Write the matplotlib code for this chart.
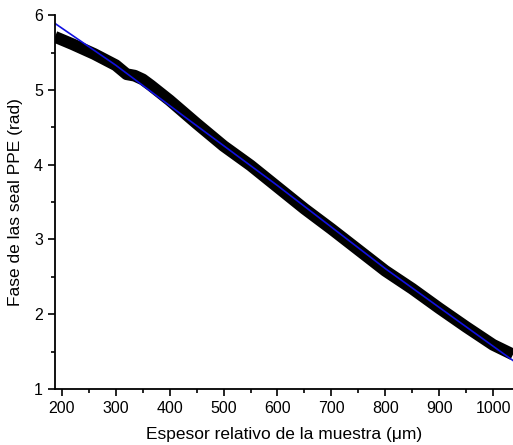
import numpy as np
import matplotlib.pyplot as plt
from matplotlib.ticker import MultipleLocator

plt.rcParams['font.family'] = ['Liberation Sans', 'DejaVu Sans']

# --------- Daten ---------
x_mess = [187, 220, 260, 300, 320, 335, 350, 365, 400, 450, 500, 550, 600,
          650, 700, 750, 800, 850, 900, 950, 1000, 1037]
y_mess = [5.71, 5.61, 5.48, 5.33, 5.21, 5.19, 5.14, 5.06, 4.86, 4.55, 4.25,
          3.99, 3.70, 3.41, 3.14, 2.86, 2.58, 2.34, 2.08, 1.83, 1.59, 1.46]
x_fit = [187, 300, 424, 600, 800, 1037]
y_fit = [5.89, 5.33, 4.66, 3.72, 2.61, 1.38]

fig = plt.figure(figsize=(5.13, 4.45), dpi=100)
ax = fig.add_axes([0.107, 0.126, 0.893, 0.840])

ax.plot(x_mess, y_mess, color='black', linewidth=8.5, solid_capstyle='butt')
ax.plot(x_fit, y_fit, color='#1010e0', linewidth=1.2)

ax.set_xlim(187, 1037)
ax.set_ylim(1, 6)
ax.xaxis.set_major_locator(MultipleLocator(100))
ax.xaxis.set_minor_locator(MultipleLocator(50))
ax.yaxis.set_major_locator(MultipleLocator(1))
ax.yaxis.set_minor_locator(MultipleLocator(0.5))
ax.tick_params(which='major', length=5, width=1.2, labelsize=11.5, direction='out')
ax.tick_params(which='minor', length=3, width=1.2, direction='out')
for s in ['top', 'right']:
    ax.spines[s].set_visible(False)
for s in ['left', 'bottom']:
    ax.spines[s].set_linewidth(1.3)

ax.set_xlabel('Espesor relativo de la muestra (\u03bcm)', fontsize=12.5, labelpad=8)
ax.set_ylabel('Fase de las seal PPE (rad)', fontsize=12.5, labelpad=8)

fig.savefig('out.png', dpi=100)
